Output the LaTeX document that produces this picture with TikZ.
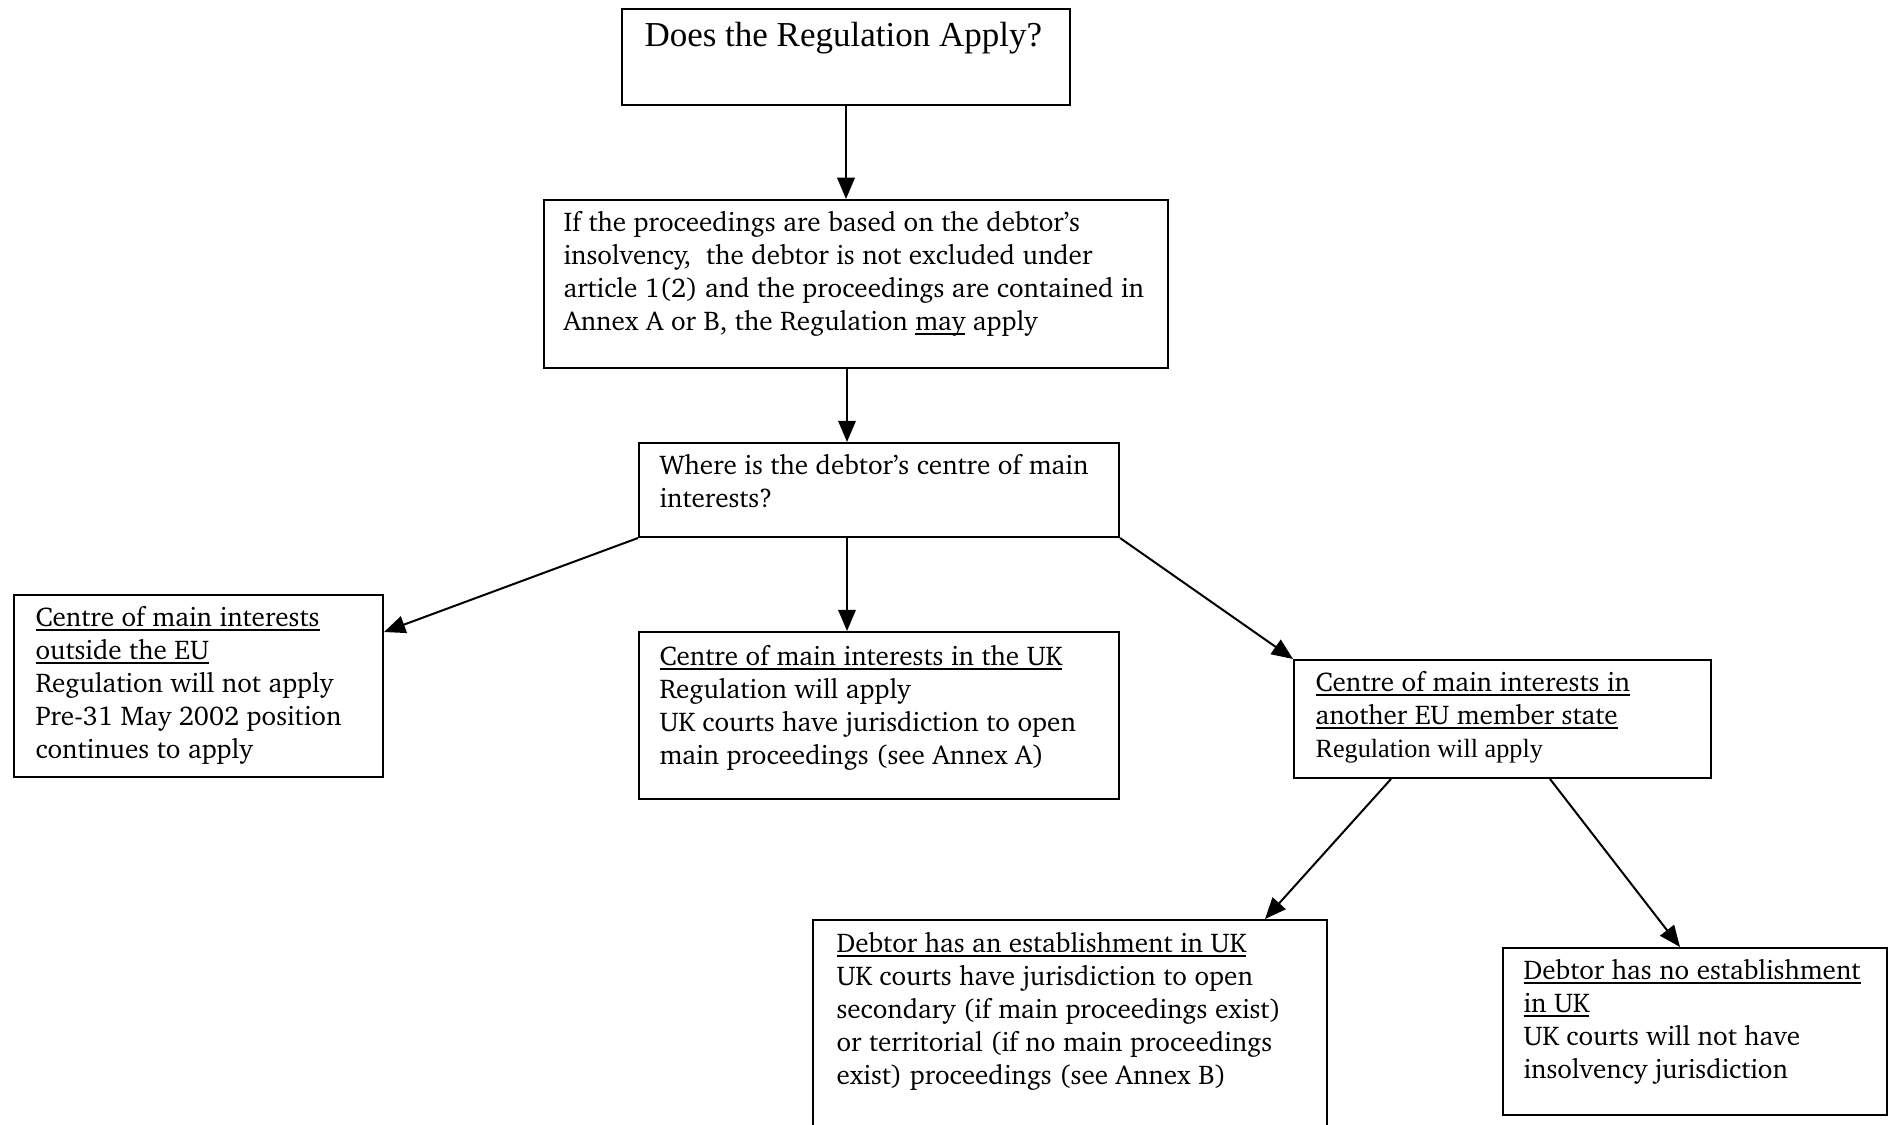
\documentclass[tikz,border=0pt]{standalone}
\usepackage[T1]{fontenc}
\usepackage{fontspec}
\usetikzlibrary{arrows.meta,calc}
\newfontfamily\timesf{Liberation Serif}
\newcommand\chfont{\fontencoding{T1}\fontfamily{bch}\fontsize{10.85}{13.2}\selectfont}
\newcommand\myul[1]{\setbox0\hbox{#1}\rlap{\rule[-1.6pt]{\wd0}{0.6pt}}\box0\relax}
\begin{document}
\begin{tikzpicture}[x=0.4pt,y=-0.4pt,
  box/.style={draw, line width=0.8pt, inner sep=0pt, anchor=north west},
  txt/.style={inner sep=0pt, anchor=north west, align=left, font=\chfont},
  arr/.style={line width=0.8pt, -{Triangle[length=8.5pt,width=7pt]}}]
\useasboundingbox (0,0) rectangle (1892,1125);
\clip (0,0) rectangle (1892,1125);
% boxes
\node[box, minimum width=179.2pt, minimum height=38.4pt] (b1) at (621,8) {};
\node[box, minimum width=249.6pt, minimum height=67.2pt] (b2) at (543,199) {};
\node[box, minimum width=192pt, minimum height=37.6pt] (b3) at (638,442) {};
\node[box, minimum width=147.6pt, minimum height=72.8pt] (b4) at (13,594) {};
\node[box, minimum width=192pt, minimum height=66.8pt] (b5) at (638,631) {};
\node[box, minimum width=166.8pt, minimum height=47.2pt] (b6) at (1293,659) {};
\node[box, minimum width=205.6pt, minimum height=112pt] (b7) at (812,919) {};
\node[box, minimum width=153.6pt, minimum height=66.8pt] (b8) at (1502,947) {};
% texts
\node[anchor=base west, inner sep=0pt, font=\timesf\fontsize{14}{16}\selectfont] (t1) at (644,47) {Does the Regulation Apply?};
\node[txt] (t2) at (563,208) {\strut If the proceedings are based on the debtor's\\ insolvency,\ \ the debtor is not excluded under\\ article 1(2) and the proceedings are contained in\\ Annex A or B, the Regulation \myul{may} apply};
\node[txt] (t3) at (659,451) {\strut Where is the debtor's centre of main\\ interests?};
\node[txt] (t4) at (35,603) {\strut\myul{Centre of main interests}\\ \myul{outside the EU}\\ Regulation will not apply\\ Pre-31 May 2002 position\\ continues to apply};
\node[txt] (t5) at (659,642) {\strut\myul{Centre of main interests in the UK}\\ Regulation will apply\\ UK courts have jurisdiction to open\\ main proceedings (see Annex A)};
\node[txt] (t6) at (1315,668) {\strut\myul{Centre of main interests in}\\ \myul{another EU member state}\\ {\timesf\fontsize{10.5}{13.2}\selectfont Regulation will apply}};
\node[txt] (t7) at (836,929) {\strut\myul{Debtor has an establishment in UK}\\ UK courts have jurisdiction to open\\ secondary (if main proceedings exist)\\ or territorial (if no main proceedings\\ exist) proceedings (see Annex B)};
\node[txt] (t8) at (1523,956) {\strut\myul{Debtor has no establishment}\\ \myul{in UK}\\ UK courts will not have\\ insolvency jurisdiction};
% connectors
\coordinate (a2s) at ($(b2.south west)+(304,0)$);
\coordinate (a4s) at ($(b3.south west)+(209,0)$);
\coordinate (a6s) at ($(b6.south west)+(98,0)$);
\coordinate (a6e) at ($(b7.north west)+(453,0)$);
\coordinate (a7s) at ($(b6.south west)+(257,0)$);
\coordinate (a7e) at ($(b8.north west)+(178,0)$);
\coordinate (a3e) at ($(b4.north east)+(0,38)$);
\draw[arr] (b1.south) -- (b1.south |- b2.north);
\draw[arr] (a2s) -- (a2s |- b3.north);
\draw[arr] (a4s) -- (a4s |- b5.north);
\draw[arr] (b3.south west) -- (a3e);
\draw[arr] (b3.south east) -- (b6.north west);
\draw[arr] (a6s) -- (a6e);
\draw[arr] (a7s) -- (a7e);
\end{tikzpicture}
\end{document}
